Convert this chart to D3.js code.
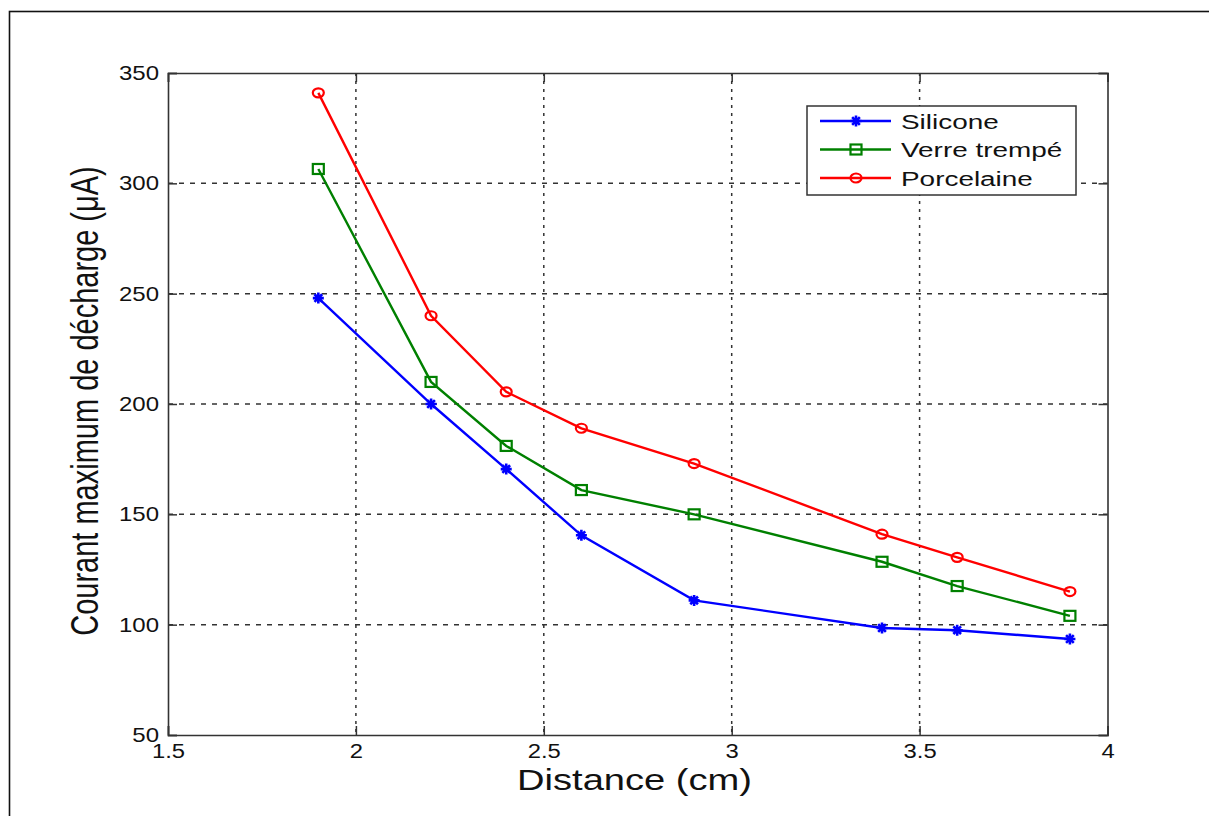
<!DOCTYPE html>
<html>
<head>
<meta charset="utf-8">
<script src="https://cdn.jsdelivr.net/npm/d3@7"></script>
<style>
  html, body { margin: 0; padding: 0; background: #fff; }
  svg { display: block; }
  text { font-family: Arial, "Liberation Sans", Helvetica, sans-serif; fill: #111; }
</style>
</head>
<body>
<svg id="chart" width="1209" height="816"></svg>
<script>
// ---- data ----
const distances = [1.9, 2.2, 2.4, 2.6, 2.9, 3.4, 3.6, 3.9];
const silicone = [248, 200, 170.5, 140.5, 111, 98.5, 97.5, 93.5];
const verreTrempe = [306.5, 210, 181, 161, 150, 128.5, 117.5, 104];
const porcelaine = [341, 240, 205.5, 189, 173, 141, 130.5, 115];
const seriesNames = ["Silicone", "Verre trempé", "Porcelaine"];
const seriesColors = ["#0000ff", "#008000", "#ff0000"];
const seriesMarkers = ["star", "square", "circle"];
const xTicks = [1.5, 2, 2.5, 3, 3.5, 4];
const yTicks = [50, 100, 150, 200, 250, 300, 350];
const xLabel = "Distance (cm)";
const yLabel = "Courant maximum de décharge (μA)";

const svg = d3.select("#chart");
const L = 168, R = 1107.5, T = 73, B = 735;
const x = d3.scaleLinear().domain([1.5, 4]).range([L, R]);
const y = d3.scaleLinear().domain([50, 350]).range([B, T]);

// outer frame
svg.append("rect").attr("x", 9.5).attr("y", 11.5).attr("width", 1220).attr("height", 820)
  .attr("fill", "none").attr("stroke", "#111").attr("stroke-width", 1.6);

// grid
const grid = svg.append("g");
grid.selectAll(".vg").data(xTicks.filter(d => d > 1.5 && d < 4)).join("line")
  .attr("x1", d => x(d)).attr("x2", d => x(d)).attr("y1", T).attr("y2", B)
  .attr("stroke", "#333").attr("stroke-width", 1.5).attr("stroke-dasharray", "3,5");
grid.selectAll(".hg").data(yTicks.filter(d => d > 50 && d < 350)).join("line")
  .attr("y1", d => y(d)).attr("y2", d => y(d)).attr("x1", L).attr("x2", R)
  .attr("stroke", "#333").attr("stroke-width", 1.5).attr("stroke-dasharray", "5,6");

// axes
const TS = 9;
const fmt = d => d3.format("")(d);
const gx = svg.append("g").attr("transform", `translate(0,${B})`)
  .call(d3.axisBottom(x).tickValues(xTicks).tickFormat(fmt).tickSize(-TS).tickPadding(9));
const gxTop = svg.append("g").attr("transform", `translate(0,${T})`)
  .call(d3.axisTop(x).tickValues(xTicks).tickFormat("").tickSize(-TS));
const gy = svg.append("g").attr("transform", `translate(${L},0)`)
  .call(d3.axisLeft(y).tickValues(yTicks).tickFormat(fmt).tickSize(-TS).tickPadding(7.5));
const gyR = svg.append("g").attr("transform", `translate(${R},0)`)
  .call(d3.axisRight(y).tickValues(yTicks).tickFormat("").tickSize(-TS));
[gx, gxTop, gy, gyR].forEach(g => {
  g.select(".domain").attr("stroke", "#333").attr("stroke-width", 1.6);
  g.selectAll(".tick line").attr("stroke", "#333").attr("stroke-width", 1.5);
  g.selectAll(".tick text").attr("font-size", 20).attr("fill", "#1a1a2a")
    .attr("font-family", "Arial, 'Liberation Sans', sans-serif");
});
gx.selectAll(".tick text").attr("transform", "scale(1.19,1)").attr("dy", "0.71em");
gy.selectAll(".tick text").attr("transform", "scale(1.2,1)");

// series
const seriesData = [silicone, verreTrempe, porcelaine];
const line = d3.line().x(d => x(d[0])).y(d => y(d[1]));

function drawMarker(g, type, color) {
  if (type === "star") {
    const r = 5.5;
    g.append("path")
      .attr("d", `M${-r},0H${r}M0,${-r}V${r}M${-r*0.7},${-r*0.7}L${r*0.7},${r*0.7}M${-r*0.7},${r*0.7}L${r*0.7},${-r*0.7}`)
      .attr("stroke", color).attr("stroke-width", 2.6).attr("fill", "none");
  } else if (type === "square") {
    g.append("rect").attr("x", -5.5).attr("y", -5).attr("width", 11).attr("height", 10)
      .attr("fill", "none").attr("stroke", color).attr("stroke-width", 2.2);
  } else {
    g.append("ellipse").attr("rx", 5.5).attr("ry", 4.5)
      .attr("fill", "none").attr("stroke", color).attr("stroke-width", 2.2);
  }
}

seriesData.forEach((vals, i) => {
  const pts = distances.map((d, j) => [d, vals[j]]);
  svg.append("path").datum(pts).attr("d", line)
    .attr("fill", "none").attr("stroke", seriesColors[i]).attr("stroke-width", 2.4);
  pts.forEach(p => {
    const g = svg.append("g").attr("transform", `translate(${x(p[0])},${y(p[1])})`);
    drawMarker(g, seriesMarkers[i], seriesColors[i]);
  });
});

// legend
const lg = svg.append("g");
lg.append("rect").attr("x", 807).attr("y", 106).attr("width", 269).attr("height", 89)
  .attr("fill", "#fff").attr("stroke", "#333").attr("stroke-width", 1.5);
const rowY = [121, 149.5, 178];
seriesNames.forEach((name, i) => {
  lg.append("line").attr("x1", 820).attr("x2", 891).attr("y1", rowY[i]).attr("y2", rowY[i])
    .attr("stroke", seriesColors[i]).attr("stroke-width", 2.4);
  const mg = lg.append("g").attr("transform", `translate(856,${rowY[i]})`);
  drawMarker(mg, seriesMarkers[i], seriesColors[i]);
  lg.append("text").attr("transform", `translate(901,${rowY[i] + 7.5}) scale(1.33,1)`)
    .attr("font-size", 21).attr("fill", "#1a1a2a").text(name);
});

// axis labels
svg.append("text").attr("transform", "translate(634.5,790) scale(1.27,1)")
  .attr("text-anchor", "middle").attr("font-size", 30).attr("fill", "#000").text(xLabel);
svg.append("text").attr("transform", "translate(98,401) scale(1.35,1) rotate(-90)")
  .attr("text-anchor", "middle").attr("font-size", 29).attr("fill", "#000").text(yLabel);
</script>
</body>
</html>
